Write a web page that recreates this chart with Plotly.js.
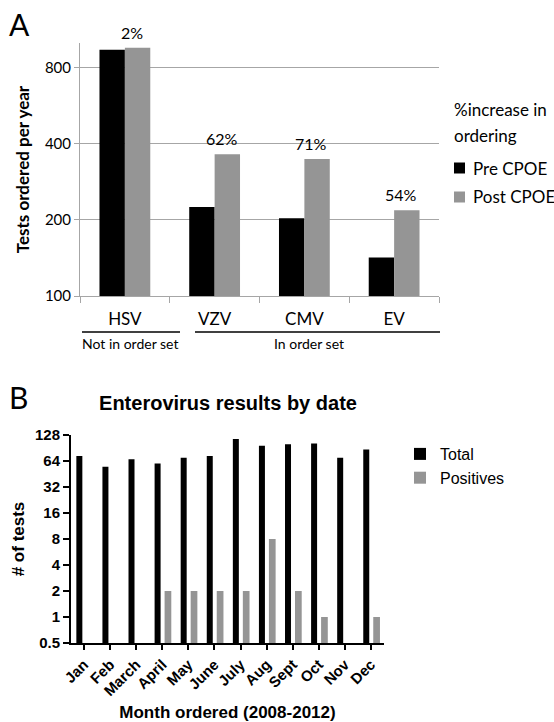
<!DOCTYPE html>
<html>
<head>
<meta charset="utf-8">
<script src="https://cdn.plot.ly/plotly-3.0.1.min.js"></script>
<style>html,body{margin:0;padding:0;background:#fff;}#chart{width:554px;height:722px;}</style>
</head>
<body>
<div id="chart"></div>
<script>
// ---- Panel A data ----
const virusCats = ["HSV", "VZV", "CMV", "EV"];
const preCPOE = [940, 225, 203, 142];
const postCPOE = [958, 363, 348, 218];
const pctIncrease = ["2%", "62%", "71%", "54%"];
const aTickVals = [100, 200, 400, 800];
const aTickText = ["100", "200", "400", "800"];
const aLegendTitle = ["%increase in", "ordering"];
const aSeriesNames = ["Pre CPOE", "Post CPOE"];

// ---- Panel B data ----
const months = ["Jan", "Feb", "March", "April", "May", "June", "July", "Aug", "Sept", "Oct", "Nov", "Dec"];
const totalTests = [73, 55, 67, 60, 70, 73, 115, 96, 100, 102, 70, 87];
const positiveTests = [null, null, null, 2, 2, 2, 2, 8, 2, 1, null, 1];
const bTickVals = [0.5, 1, 2, 4, 8, 16, 32, 64, 128];
const bTickText = ["0.5", "1", "2", "4", "8", "16", "32", "64", "128"];

const W = 554, H = 722;
const px = v => v / W;
const py = v => 1 - v / H;

const fA = "Lato, 'Open Sans', sans-serif";
const fB = "'Liberation Sans', Arial, sans-serif";
const GRAY = "#959595";
const AXG = "#a6a6a6";
const aColors = ["#000000", GRAY];

const traces = [
  {type: "bar", name: aSeriesNames[0], x: virusCats, y: preCPOE, xaxis: "x", yaxis: "y",
   marker: {color: aColors[0]}, width: 0.283, offset: -0.283, showlegend: false, hoverinfo: "x+y"},
  {type: "bar", name: aSeriesNames[1], x: virusCats, y: postCPOE, xaxis: "x", yaxis: "y",
   marker: {color: aColors[1]}, width: 0.283, offset: 0, showlegend: false, hoverinfo: "x+y"},
  {type: "bar", name: "Total", x: months, y: totalTests, xaxis: "x2", yaxis: "y2",
   marker: {color: "#000000"}, width: 0.23, offset: -0.295, legend: "legend2", hoverinfo: "x+y"},
  {type: "bar", name: "Positives", x: months, y: positiveTests, xaxis: "x2", yaxis: "y2",
   marker: {color: GRAY}, width: 0.257, offset: 0.088, legend: "legend2", hoverinfo: "x+y"}
];

const annotations = [
  {text: "A", xref: "paper", yref: "paper", x: px(19), y: py(24), showarrow: false,
   xanchor: "center", yanchor: "middle", font: {family: fA, size: 30, color: "#000"}},
  {text: "B", xref: "paper", yref: "paper", x: px(18), y: py(397), showarrow: false,
   xanchor: "center", yanchor: "middle", font: {family: fA, size: 30, color: "#000"}},
  {text: "Not in order set", xref: "paper", yref: "paper", x: px(129.5), y: py(343), showarrow: false,
   xanchor: "center", yanchor: "middle", font: {family: fA, size: 14, color: "#000"}},
  {text: "In order set", xref: "paper", yref: "paper", x: px(309), y: py(343), showarrow: false,
   xanchor: "center", yanchor: "middle", font: {family: fA, size: 14, color: "#000"}},
  // legend for panel A
  {text: aLegendTitle[0], xref: "paper", yref: "paper", x: px(452), y: py(110), showarrow: false,
   xanchor: "left", yanchor: "middle", font: {family: fA, size: 17, color: "#000"}},
  {text: aLegendTitle[1], xref: "paper", yref: "paper", x: px(452), y: py(135), showarrow: false,
   xanchor: "left", yanchor: "middle", font: {family: fA, size: 17, color: "#000"}}
];
const shapes = [
  {type: "line", xref: "paper", yref: "paper", x0: px(82), x1: px(180), y0: py(332), y1: py(332),
   line: {color: "#000", width: 1.5}},
  {type: "line", xref: "paper", yref: "paper", x0: px(195), x1: px(440), y0: py(332), y1: py(332),
   line: {color: "#000", width: 1.5}}
];
aSeriesNames.forEach((n, i) => {
  const cy = 168 + i * 29;
  annotations.push({text: n, xref: "paper", yref: "paper", x: px(471), y: py(cy), showarrow: false,
    xanchor: "left", yanchor: "middle", font: {family: fA, size: 17, color: "#000"}});
  shapes.push({type: "rect", xref: "paper", yref: "paper", x0: px(454), x1: px(465),
    y0: py(cy - 5.5), y1: py(cy + 5.5), line: {width: 0}, fillcolor: aColors[i]});
});
virusCats.forEach((c, i) => {
  annotations.push({text: pctIncrease[i], xref: "x", yref: "y", x: c, y: Math.log10(postCPOE[i]),
    showarrow: false, xanchor: "center", yanchor: "bottom", xshift: 7, yshift: 4,
    font: {family: fA, size: 16, color: "#000"}});
});

const layout = {
  width: W, height: H,
  margin: {l: 0, r: 0, t: 0, b: 0},
  paper_bgcolor: "#fff", plot_bgcolor: "#fff",
  showlegend: true,
  barmode: "group",
  title: {text: "<b>Enterovirus results by date</b>", x: px(228), y: py(403), xref: "paper", yref: "container",
          xanchor: "center", yanchor: "middle", font: {family: fB, size: 20, color: "#000"}},
  xaxis: {domain: [px(80), px(439)], anchor: "y", type: "category", range: [-0.5, 3.5],
          showline: true, linecolor: AXG, linewidth: 1, ticks: "outside", tickson: "boundaries",
          ticklen: 6, tickcolor: AXG, showgrid: false, ticklabelstandoff: 8,
          tickfont: {family: fA, size: 17, color: "#000"}, fixedrange: true},
  yaxis: {domain: [py(296), py(43)], anchor: "x", type: "log", range: [2, 3],
          tickvals: aTickVals, ticktext: aTickText, showline: true, linecolor: AXG, linewidth: 1,
          ticks: "outside", ticklen: 5, tickcolor: AXG, showgrid: true, gridcolor: AXG, gridwidth: 1,
          tickfont: {family: fA, size: 15, color: "#000"},
          title: {text: "<b>Tests ordered per year</b>", standoff: 10, font: {family: fA, size: 17, color: "#000"}}},
  xaxis2: {domain: [px(71), px(384)], anchor: "y2", type: "category", range: [-0.5, 11.5],
           showline: true, linecolor: "#000", linewidth: 2, ticks: "outside", ticklen: 5, tickwidth: 2,
           tickcolor: "#000", showgrid: false, tickangle: -45,
           tickfont: {family: fB, size: 15, color: "#000", weight: "bold"},
           title: {text: "<b>Month ordered (2008-2012)</b>", standoff: 20, font: {family: fB, size: 17, color: "#000"}}},
  yaxis2: {domain: [py(643), py(435)], anchor: "x2", type: "log", range: [Math.log10(0.5), Math.log10(128)],
           tickvals: bTickVals, ticktext: bTickText, showline: true, linecolor: "#000", linewidth: 2,
           ticks: "outside", ticklen: 6, tickwidth: 2, tickcolor: "#000", showgrid: false,
           tickfont: {family: fB, size: 15, color: "#000", weight: "bold"},
           title: {text: "<b># of tests</b>", standoff: 6, font: {family: fB, size: 17, color: "#000"}}},
  legend2: {x: px(400), y: py(437), xanchor: "left", yanchor: "top", bgcolor: "rgba(0,0,0,0)",
            font: {family: fB, size: 16, color: "#000"}},
  annotations: annotations,
  shapes: shapes
};

Plotly.newPlot("chart", traces, layout, {displayModeBar: false, staticPlot: true});
</script>
</body>
</html>
